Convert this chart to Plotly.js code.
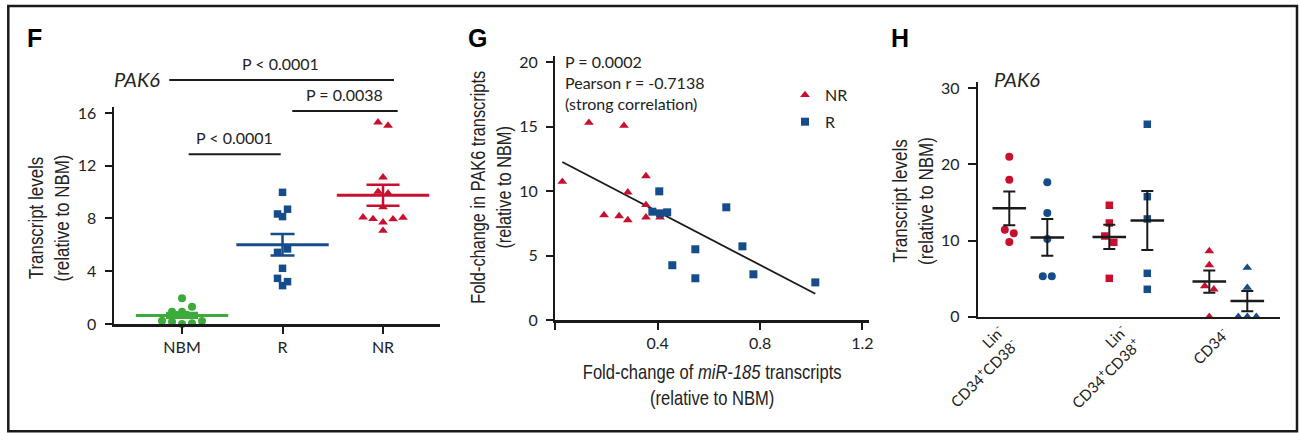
<!DOCTYPE html>
<html><head><meta charset="utf-8">
<script src="https://cdn.plot.ly/plotly-3.0.1.min.js"></script>
<style>html,body{margin:0;padding:0;background:#fff}#chart{width:1299px;height:433px}</style>
</head><body><div id="chart"></div>
<script>
// ================= DATA =================
// Panel F: PAK6 transcript levels (relative to NBM)
const fCategories = ['NBM', 'R', 'NR'];
const fNBM = [1.95, 0.93, 0.93, 1.31, 0.68, 0.68, 0.25, 0.18, 0.00, 0.05, 0.23];
const fR   = [9.98, 8.34, 8.14, 8.70, 5.43, 5.69, 4.22, 3.46, 2.91, 3.21];
const fNR  = [15.29, 15.04, 11.12, 10.03, 9.91, 8.85, 8.09, 7.96, 7.71, 7.94, 8.06, 7.07];
const fYTicks = [0, 4, 8, 12, 16];
const fPvalues = ['P < 0.0001', 'P = 0.0038', 'P < 0.0001'];

// Panel G: miR-185 vs PAK6 fold-change
const gNRx = [0.027, 0.131, 0.190, 0.249, 0.268, 0.283, 0.283, 0.354, 0.354, 0.354, 0.409];
const gNRy = [10.74, 15.32, 8.15, 8.07, 15.09, 9.91, 7.76, 11.18, 8.93, 7.97, 7.97];
const gRx  = [0.406, 0.379, 0.409, 0.437, 0.668, 0.547, 0.731, 0.457, 0.547, 0.774, 1.016];
const gRy  = [9.99, 8.41, 8.28, 8.36, 8.75, 5.49, 5.72, 4.25, 3.24, 3.55, 2.92];
const gXTicks = [0, 0.4, 0.8, 1.2];
const gXTickText = ['', '0.4', '0.8', '1.2'];
const gYTicks = [0, 5, 10, 15, 20];
const gStats = ['P = 0.0002', 'Pearson r = -0.7138', '(strong correlation)'];

// Panel H: PAK6 in sorted populations (NR red, R blue)
const hCategories = ['Lin<sup>-</sup><br>CD34<sup>+</sup>CD38<sup>-</sup>',
                     'Lin<sup>-</sup><br>CD34<sup>+</sup>CD38<sup>+</sup>',
                     'CD34<sup>-</sup>'];
const hNR = [[21.0, 18.0, 11.43, 10.95, 9.81],
             [14.64, 12.31, 10.60, 9.77, 5.04],
             [8.63, 6.79, 4.03, 3.60, 0.00]];
const hR  = [[17.66, 13.63, 10.21, 5.30, 5.30],
             [25.28, 15.77, 12.84, 5.70, 3.60],
             [6.44, 3.81, 0.00, 0.00, 0.00]];
const hYTicks = [0, 10, 20, 30];

// ================= STYLE / GEOMETRY =================
const W = 1299, H = 433;
const RED = '#c8102e', BLUE = '#164c89', GREEN = '#3dab3a', INK = '#1a1a1a', TXT = '#222';
const FONT = 'Lato, "Open Sans", sans-serif';
const NARROW = '"Liberation Sans", Arial, sans-serif';
const FS = 16;
const px = x => x / W, py = y => 1 - y / H;

const F = {x0: 114, x1: 440, y0: 324, y1: 106.7, xr: [-0.677, 2.567], yr: [0, 16.47]};
const G = {x0: 555.4, x1: 869.3, y0: 320, y1: 55.7, xr: [0, 1.227], yr: [0, 20.52]};
const Hh = {x0: 978.3, x1: 1280, y0: 316.7, y1: 81.7, xr: [-0.31, 2.707], yr: [0, 30.87]};
const ppu = (p) => ({x: (p.x1 - p.x0) / (p.xr[1] - p.xr[0]), y: (p.y0 - p.y1) / (p.yr[1] - p.yr[0])});

// column-scatter arrangement: values close in height share a row and are spread horizontally
function rowOffsets(vals, pxPerUnit, threshPx, stepPx) {
  const idx = vals.map((v, i) => i).sort((a, b) => vals[b] - vals[a] || a - b);
  const offs = new Array(vals.length).fill(0);
  let row = [], start = null;
  const flush = () => { row.sort((a, b) => a - b); row.forEach((i, j) => { offs[i] = (j - (row.length - 1) / 2) * stepPx; }); };
  idx.forEach(i => {
    if (start === null || (start - vals[i]) * pxPerUnit >= threshPx) { if (row.length) flush(); row = [i]; start = vals[i]; }
    else row.push(i);
  });
  if (row.length) flush();
  return offs;
}
const mean = a => a.reduce((s, v) => s + v, 0) / a.length;
const sem = a => { const m = mean(a); return Math.sqrt(a.reduce((s, v) => s + (v - m) ** 2, 0) / (a.length - 1)) / Math.sqrt(a.length); };

const traces = [];
// ---- F ----
const fS = ppu(F);
const fGroups = [{v: fNBM, c: GREEN, s: 'circle', sz: 8, cap: 16},
                 {v: fR, c: BLUE, s: 'square', sz: 7.5, cap: 12},
                 {v: fNR, c: RED, s: 'triangle-up', sz: 8.5, cap: 16.5}];
fGroups.forEach((g, i) => {
  const off = rowOffsets(g.v, fS.y, 5.2, 10);
  traces.push({type: 'scatter', mode: 'markers', xaxis: 'x', yaxis: 'y', showlegend: false, cliponaxis: false,
    x: g.v.map((v, k) => i + off[k] / fS.x), y: g.v,
    marker: {symbol: g.s, size: g.sz, color: g.c}});
});
fGroups.forEach((g, i) => {
  traces.push({type: 'scatter', mode: 'markers', xaxis: 'x', yaxis: 'y', showlegend: false, cliponaxis: false,
    x: [i], y: [mean(g.v)],
    marker: {symbol: 'line-ew', size: 66, color: g.c, line: {width: 3, color: g.c}},
    error_y: {type: 'data', array: [sem(g.v)], width: g.cap, thickness: 2.5, color: g.c}});
});

// ---- G ----
const allX = gNRx.concat(gRx), allY = gNRy.concat(gRy);
const mx = mean(allX), my = mean(allY);
let sxy = 0, sxx = 0;
allX.forEach((x, i) => { sxy += (x - mx) * (allY[i] - my); sxx += (x - mx) ** 2; });
const slope = sxy / sxx, icpt = my - slope * mx;
const xmin = Math.min(...allX), xmax = Math.max(...allX);
traces.push({type: 'scatter', mode: 'lines', xaxis: 'x2', yaxis: 'y2', showlegend: false,
  x: [xmin, xmax], y: [icpt + slope * xmin, icpt + slope * xmax], line: {color: INK, width: 1.8}});
traces.push({type: 'scatter', mode: 'markers', xaxis: 'x2', yaxis: 'y2', name: 'NR', legendgroup: 'a', cliponaxis: false,
  x: gNRx, y: gNRy, marker: {symbol: 'triangle-up', size: 8.5, color: RED}});
traces.push({type: 'scatter', mode: 'markers', xaxis: 'x2', yaxis: 'y2', name: 'R', legendgroup: 'b', cliponaxis: false,
  x: gRx, y: gRy, marker: {symbol: 'square', size: 8, color: BLUE}});

// ---- H ----
const hS = ppu(Hh);
const hSym = ['circle', 'square', 'triangle-up'];
const hSz = [8, 7.5, 8.5];
const BLUE_SHIFT = 0.38;
[[hNR, RED, 0], [hR, BLUE, BLUE_SHIFT]].forEach(([set, col, shift]) => {
  set.forEach((vals, g) => {
    const off = rowOffsets(vals, hS.y, 7, 9);
    traces.push({type: 'scatter', mode: 'markers', xaxis: 'x3', yaxis: 'y3', showlegend: false, cliponaxis: false,
      x: vals.map((v, k) => g + shift + off[k] / hS.x), y: vals,
      marker: {symbol: hSym[g], size: hSz[g], color: col}});
  });
});
[[hNR, 0], [hR, BLUE_SHIFT]].forEach(([set, shift]) => {
  traces.push({type: 'scatter', mode: 'markers', xaxis: 'x3', yaxis: 'y3', showlegend: false, cliponaxis: false,
    x: set.map((v, g) => g + shift), y: set.map(mean),
    marker: {symbol: 'line-ew', size: 24, color: INK, line: {width: 2.5, color: INK}},
    error_y: {type: 'data', array: set.map(sem), width: 6, thickness: 2, color: INK}});
});

// ================= LAYOUT =================
const axBase = {showline: true, linewidth: 2.5, linecolor: INK, ticks: 'outside', ticklen: 7, tickwidth: 2,
  tickcolor: INK, showgrid: false, zeroline: false, fixedrange: true, tickfont: {family: FONT, size: FS, color: TXT}};
const dom = (a, b) => [Math.min(a, b), Math.max(a, b)];

const ann = [];
const txt = (text, x, y, opt = {}) => { ann.push(Object.assign({text, x: px(x), y: py(y), xref: 'paper', yref: 'paper',
  showarrow: false, font: {family: FONT, size: FS, color: TXT}, xanchor: 'center', yanchor: 'middle'}, opt)); return ann.length - 1; };

const LET = {family: 'Liberation Sans, Arial, sans-serif', size: 25, color: '#000'};
txt('<b>F</b>', 25, 38, {xanchor: 'left', font: LET});
txt('<b>G</b>', 465.5, 38, {xanchor: 'left', font: LET});
txt('<b>H</b>', 888.5, 38, {xanchor: 'left', font: LET});
txt('<i>PAK6</i>', 136.7, 78.5, {font: {family: FONT, size: 20, color: TXT}});
txt('<i>PAK6</i>', 1016.8, 79, {font: {family: FONT, size: 20, color: TXT}});
txt(fPvalues[0], 280.8, 63);
txt(fPvalues[1], 344.7, 94.5);
txt(fPvalues[2], 234, 137.5);
txt(gStats.join('<br>'), 562.5, 82, {xanchor: 'left', align: 'left'});
// axis titles (condensed look: width fitted after render)
const tf = {family: NARROW, size: 20, color: TXT};
const condensed = [];
condensed.push([txt('Transcript levels<br>(relative to NBM)', 49, 218, {textangle: -90, font: tf}), 127]);
condensed.push([txt('Fold-change in PAK6 transcripts<br>(relative to NBM)', 491, 188, {textangle: -90, font: tf}), 233]);
condensed.push([txt('Fold-change of <i>miR-185</i> transcripts<br>(relative to NBM)', 712, 385, {font: tf}), 259]);
condensed.push([txt('Transcript levels<br>(relative to NBM)', 913, 201, {textangle: -90, font: tf}), 128]);
const lf = {family: FONT, size: 15, color: TXT};
txt(hCategories[0], 1025, 318, {textangle: -45, xanchor: 'right', yanchor: 'top', align: 'right', font: lf});
txt(hCategories[1], 1147, 318, {textangle: -45, xanchor: 'right', yanchor: 'top', align: 'right', font: lf});
txt(hCategories[2], 1235, 321, {textangle: -45, xanchor: 'right', yanchor: 'top', align: 'right', font: lf});

const line = (x0, y0, x1, y1, w = 2) => ({type: 'line', xref: 'paper', yref: 'paper', x0: px(x0), x1: px(x1), y0: py(y0), y1: py(y1), line: {color: INK, width: w}});
const shapes = [
  line(169.3, 80, 394, 80), line(292.3, 111, 397.7, 111), line(188.7, 154.3, 280.7, 154.3),
  {type: 'rect', xref: 'paper', yref: 'paper', x0: px(8.3), x1: px(1297), y0: py(431.3), y1: py(6), line: {color: INK, width: 2.5}}
];

const layout = {
  width: W, height: H, margin: {l: 0, r: 0, t: 0, b: 0}, paper_bgcolor: '#fff', plot_bgcolor: 'rgba(0,0,0,0)',
  font: {family: FONT, color: TXT},
  xaxis: Object.assign({}, axBase, {domain: [px(F.x0), px(F.x1)], range: F.xr, tickvals: [0, 1, 2], ticktext: fCategories, anchor: 'y'}),
  yaxis: Object.assign({}, axBase, {domain: dom(py(F.y0), py(F.y1)), range: F.yr, tickvals: fYTicks, ticklabelstandoff: 5, anchor: 'x'}),
  xaxis2: Object.assign({}, axBase, {domain: [px(G.x0), px(G.x1)], range: G.xr, tickvals: gXTicks, ticktext: gXTickText, anchor: 'y2'}),
  yaxis2: Object.assign({}, axBase, {domain: dom(py(G.y0), py(G.y1)), range: G.yr, tickvals: gYTicks, ticklabelstandoff: 5, anchor: 'x2'}),
  xaxis3: Object.assign({}, axBase, {domain: [px(Hh.x0), px(Hh.x1)], range: Hh.xr, ticks: '', showticklabels: false, anchor: 'y3'}),
  yaxis3: Object.assign({}, axBase, {domain: dom(py(Hh.y0), py(Hh.y1)), range: Hh.yr, tickvals: hYTicks, ticklabelstandoff: 5, ticklen: 8, anchor: 'x3'}),
  showlegend: true,
  legend: {x: px(785), y: py(78), xanchor: 'left', yanchor: 'top', bgcolor: 'rgba(0,0,0,0)',
    font: {family: FONT, size: 16, color: TXT}, traceorder: 'grouped', tracegroupgap: 3, itemclick: false, itemdoubleclick: false},
  annotations: ann, shapes: shapes
};
Plotly.newPlot('chart', traces, layout, {displayModeBar: false, staticPlot: true}).then(gd => {
  condensed.forEach(([i, target]) => {
    const t = gd.querySelector('.annotation[data-index="' + i + '"] text');
    if (!t) return;
    let maxW = 0;
    t.querySelectorAll('tspan.line').forEach(l => { maxW = Math.max(maxW, l.getComputedTextLength()); });
    if (!maxW) maxW = t.getBBox().width;
    const s = target / maxW;
    t.style.transformBox = 'fill-box';
    t.style.transformOrigin = 'center';
    t.style.transform = 'scaleX(' + s.toFixed(3) + ')';
  });
});
</script></body></html>
